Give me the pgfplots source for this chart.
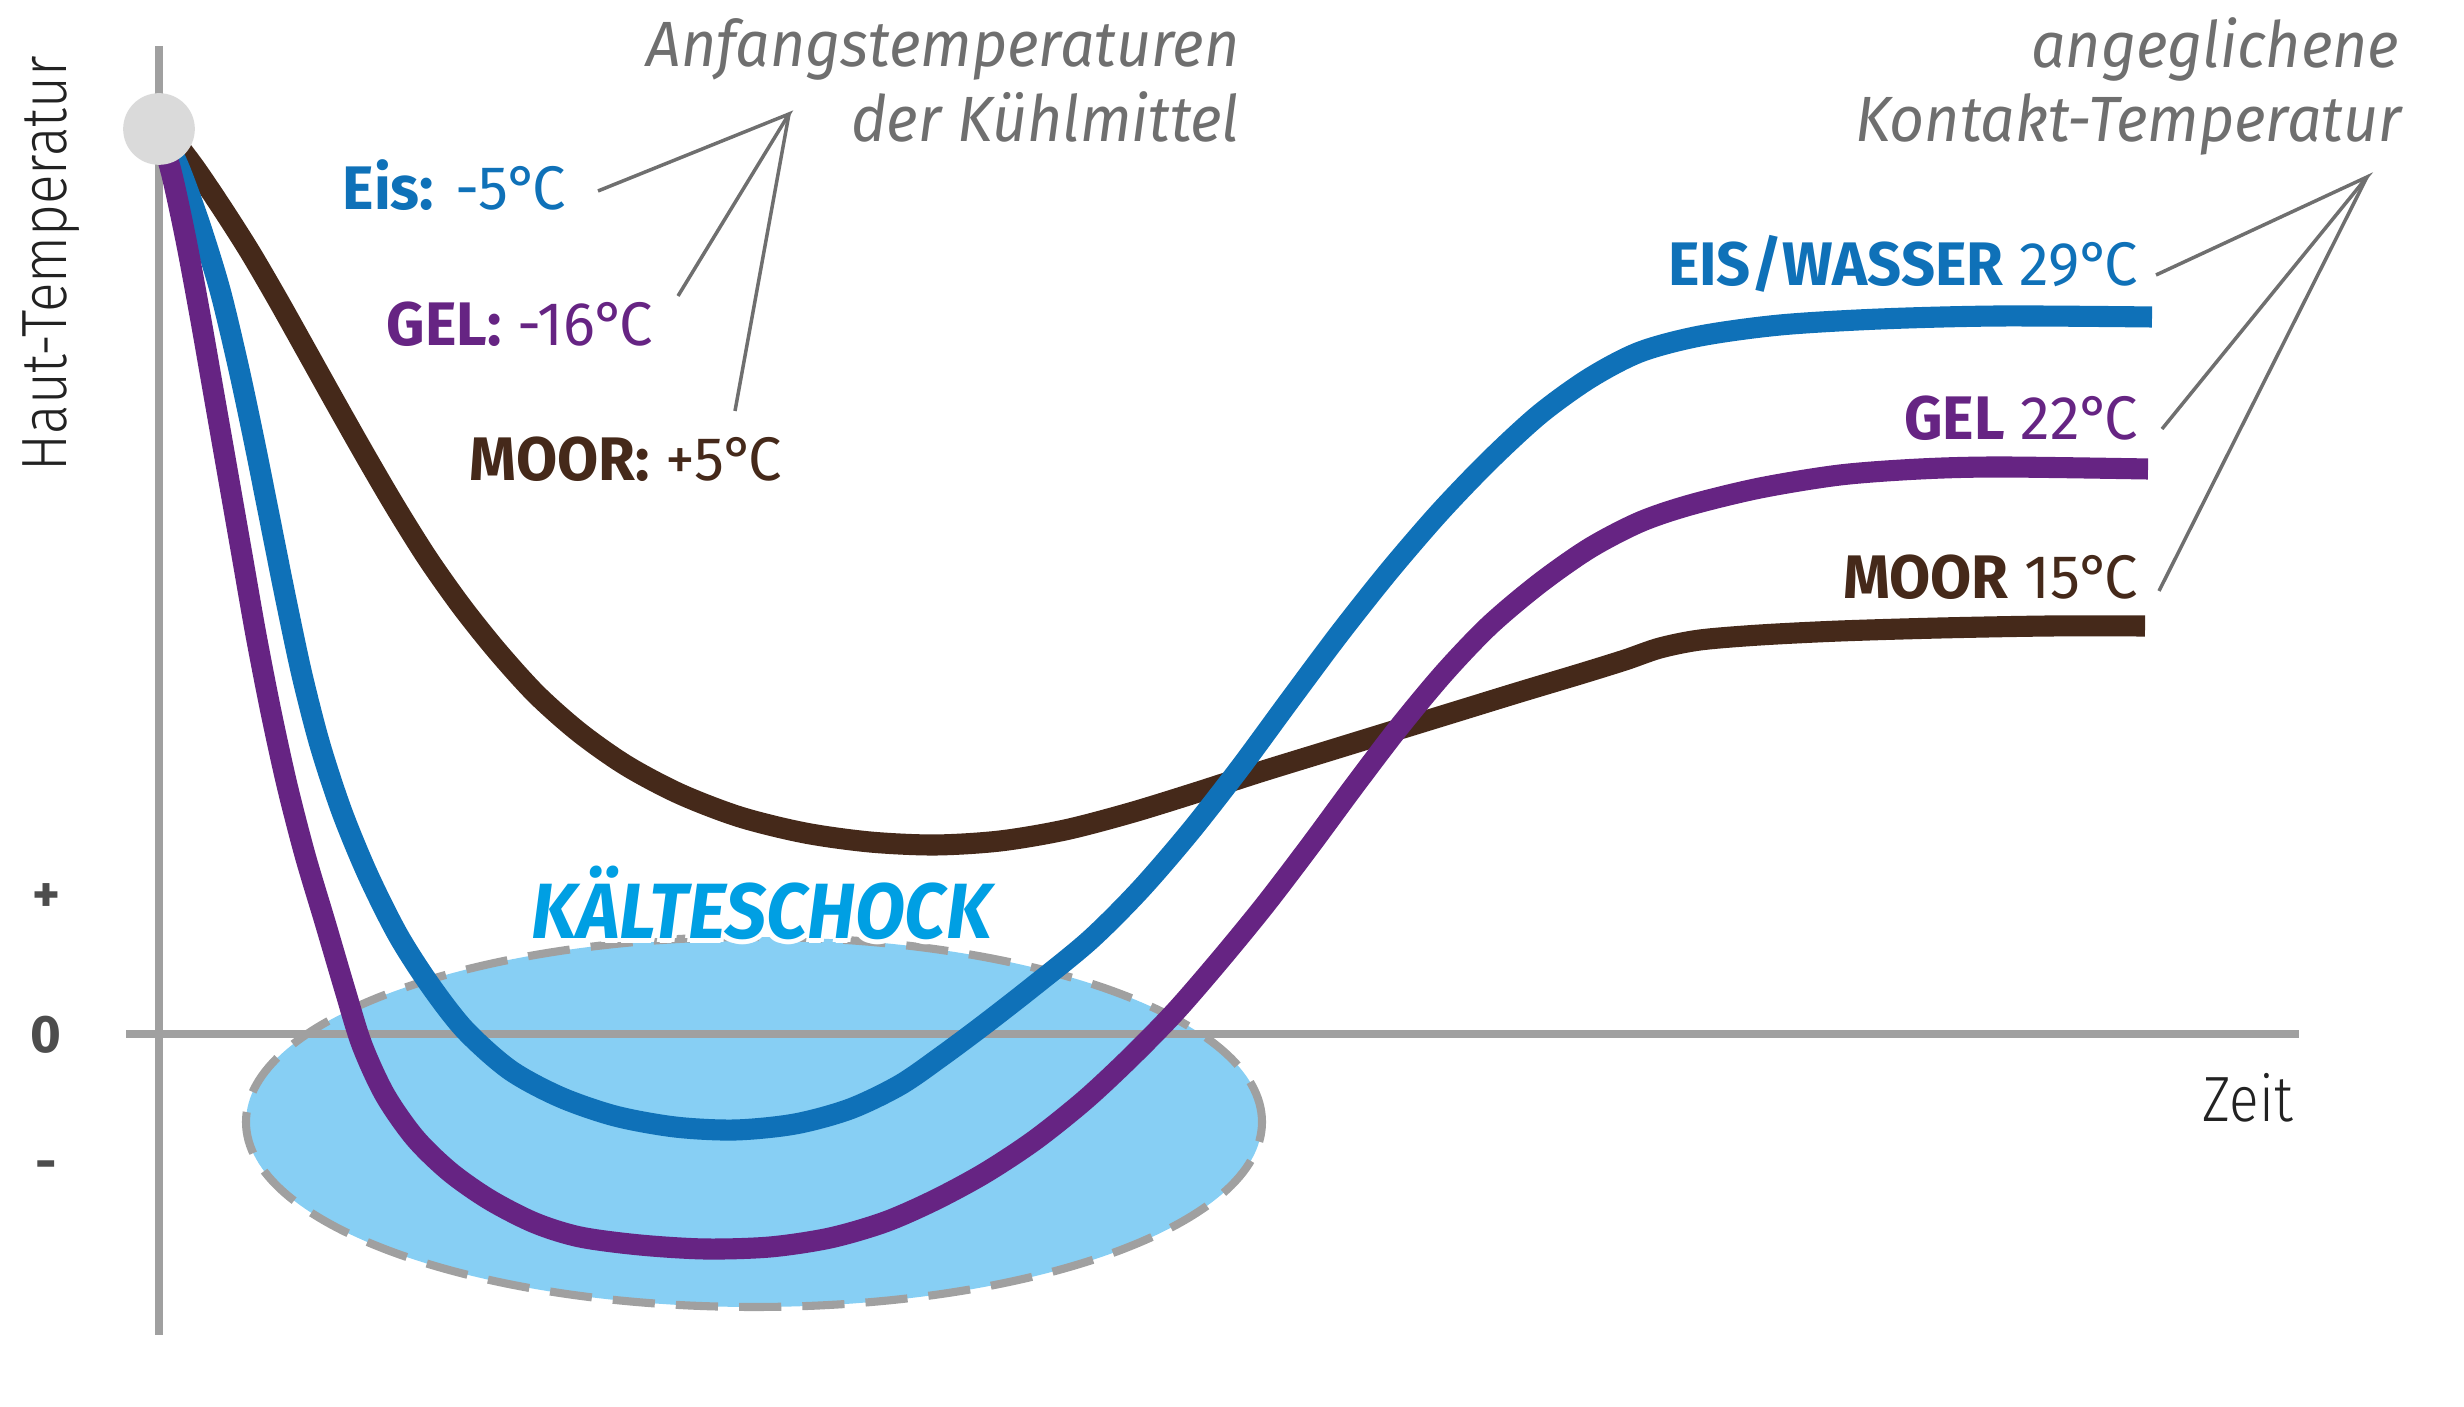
\documentclass[border=0pt]{standalone}
\usepackage{pgfplots}
\pgfplotsset{compat=1.18}
\usepackage{fontspec}
\setmainfont{Fira Sans}
\newfontfamily\hdfont[FakeStretch=0.95]{Fira Sans}
\newfontfamily\lbfont[FakeStretch=0.97]{Fira Sans}
\newfontfamily\shfont[FakeStretch=0.93]{Fira Sans}
\newfontfamily\ltfont[FakeStretch=0.86]{Fira Sans Light}

\definecolor{cEis}{HTML}{0F71B8}
\definecolor{cGel}{HTML}{662483}
\definecolor{cMoor}{HTML}{45291A}
\definecolor{cAx}{HTML}{A0A0A0}
\definecolor{cLead}{HTML}{6F6F6F}
\definecolor{cShock}{HTML}{009FE3}
\definecolor{cEll}{HTML}{87CFF4}
\definecolor{cDot}{HTML}{DADADA}
\definecolor{cTxt}{HTML}{222222}
\definecolor{cTick}{HTML}{4D4D4D}

% font sizes given in image pixels (1 px = 0.1 mm)
\newcommand\hd{\fontsize{18.2}{20}\selectfont\hdfont\itshape\color{cLead}}
\newcommand\lb{\fontsize{17.5}{20}\selectfont\lbfont}
\newcommand\dC{°\kern-.1em C}
\newcommand\shock{\fontsize{22.3}{24}\selectfont\shfont\bfseries\itshape KÄLTESCHOCK}

\begin{document}
\begin{tikzpicture}
\begin{axis}[
    scale only axis,
    width=24.64cm, height=14.07cm,
    xmin=0, xmax=2464, ymin=0, ymax=1407,
    y dir=reverse,
    hide axis,
    clip=false]

% page frame
\path (axis cs:0,0) (axis cs:2464,1407);

% Kaelteschock area
\fill[cEll] (axis cs:754,1122) ellipse [x radius=5.08cm, y radius=1.85cm];
\draw[cAx, line width=2.3pt, dash pattern=on 12pt off 6pt] (axis cs:754,1122) ellipse [x radius=5.08cm, y radius=1.85cm];

% axes
\addplot[cAx, line width=2pt] coordinates {(126,1034) (2299,1034)};
\addplot[cAx, line width=2.2pt] coordinates {(159,46) (159,1335)};

% Moor
\addplot[cMoor, line width=6pt, smooth] coordinates {
(170,135) (195,168) (222,208) (250,252) (278,300) (306,350) (335,402)
(365,455) (396,508) (428,559) (462,607) (498,652) (537,695) (580,733)
(627,766) (680,794) (740,817) (805,833) (870,842) (935,845) (1000,841)
(1065,830) (1130,813) (1195,793) (1260,772) (1325,752) (1390,732)
(1455,712) (1520,692) (1580,674) (1625,660) (1660,648) (1700,640)
(1760,635) (1840,631) (1940,628) (2050,626) (2145,626)};

% Eis
\addplot[cEis, line width=6pt, smooth] coordinates {
(163,133) (180,170) (200,225) (220,290) (238,365) (254,440) (270,520)
(286,600) (302,675) (320,745) (342,812) (368,875) (398,935) (430,985)
(465,1030) (510,1070) (560,1097) (615,1116) (675,1127) (735,1130)
(795,1124) (850,1109) (900,1085) (942,1056) (985,1024) (1035,985)
(1090,940) (1140,890) (1190,832) (1240,768) (1290,700) (1340,633)
(1390,570) (1440,512) (1490,460) (1540,414) (1590,378) (1640,352)
(1700,336) (1780,325) (1880,319) (2000,316) (2152,317)};

% Gel
\addplot[cGel, line width=6pt, smooth] coordinates {
(160,133) (172,175) (186,240) (200,315) (214,395) (228,475) (242,555)
(256,635) (271,712) (287,785) (305,855) (325,922) (345,990) (362,1045)
(385,1095) (415,1138) (450,1172) (490,1200) (535,1223) (580,1237)
(640,1245) (705,1249) (770,1247) (830,1238) (885,1222) (935,1200)
(985,1173) (1035,1140) (1085,1100) (1130,1058) (1175,1012) (1220,960)
(1265,905) (1310,846) (1355,785) (1400,726) (1445,672) (1490,625)
(1540,583) (1590,548) (1640,522) (1690,505) (1760,488) (1840,475)
(1920,469) (2000,467) (2148,469)};

% start point
\addplot[only marks, mark=*, mark size=10pt, color=cDot] coordinates {(159,129)};

% leader lines
\draw[cLead, line width=1pt] (axis cs:598,191) -- (axis cs:789,114) -- (axis cs:678,296);
\draw[cLead, line width=1pt] (axis cs:789,114) -- (axis cs:735,411);
\draw[cLead, line width=1pt] (axis cs:2156,275) -- (axis cs:2367,177) -- (axis cs:2162,429);
\draw[cLead, line width=1pt] (axis cs:2367,177) -- (axis cs:2159,591);

% headings
\node[anchor=base east, inner sep=0pt] at (axis cs:1240,67) {\hd Anfangstemperaturen};
\node[anchor=base east, inner sep=0pt] at (axis cs:1240,142) {\hd der Kühlmittel};
\node[anchor=base east, inner sep=0pt] at (axis cs:2400,68) {\hd angeglichene};
\node[anchor=base east, inner sep=0pt] at (axis cs:2402,142) {\hd Kontakt-Temperatur};

% start labels
\node[anchor=base west, inner sep=0pt, cEis] at (axis cs:342,210) {\lb\textbf{Eis:} -5\dC};
\node[anchor=base west, inner sep=0pt, cGel] at (axis cs:386,346) {\lb\textbf{GEL:} -16\dC};
\node[anchor=base west, inner sep=0pt, cMoor] at (axis cs:469,481) {\lb\textbf{MOOR:} +5\dC};

% end labels
\node[anchor=base east, inner sep=0pt, cEis] at (axis cs:2139,286) {\lb\textbf{EIS/WASSER} 29\dC};
\node[anchor=base east, inner sep=0pt, cGel] at (axis cs:2139,440) {\lb\textbf{GEL} 22\dC};
\node[anchor=base east, inner sep=0pt, cMoor] at (axis cs:2139,599) {\lb\textbf{MOOR} 15\dC};

% Kaelteschock with white halo
\pgfplotsinvokeforeach{0,45,90,135,180,225,270,315}{
  \node[anchor=base west, inner sep=0pt, white, shift={(#1:1.3pt)}] at (axis cs:531,939) {\shock};
}
\node[anchor=base west, inner sep=0pt, cShock] at (axis cs:531,939) {\shock};

% axis texts
\node[anchor=base west, inner sep=0pt, rotate=90, cTxt] at (axis cs:67,472) {\fontsize{18.2}{20}\selectfont\ltfont Haut-Temperatur};
\node[anchor=base west, inner sep=0pt, cTxt] at (axis cs:2202,1122) {\fontsize{18.2}{20}\selectfont\ltfont Zeit};
\node[cTick, inner sep=0pt] at (axis cs:46,898) {\fontsize{15}{16}\selectfont\bfseries +};
\node[cTick, inner sep=0pt] at (axis cs:46,1035) {\fontsize{15}{16}\selectfont\bfseries 0};
\node[cTick, inner sep=0pt] at (axis cs:46,1171) {\fontsize{15}{16}\selectfont\bfseries -};

\end{axis}
\end{tikzpicture}
\end{document}
